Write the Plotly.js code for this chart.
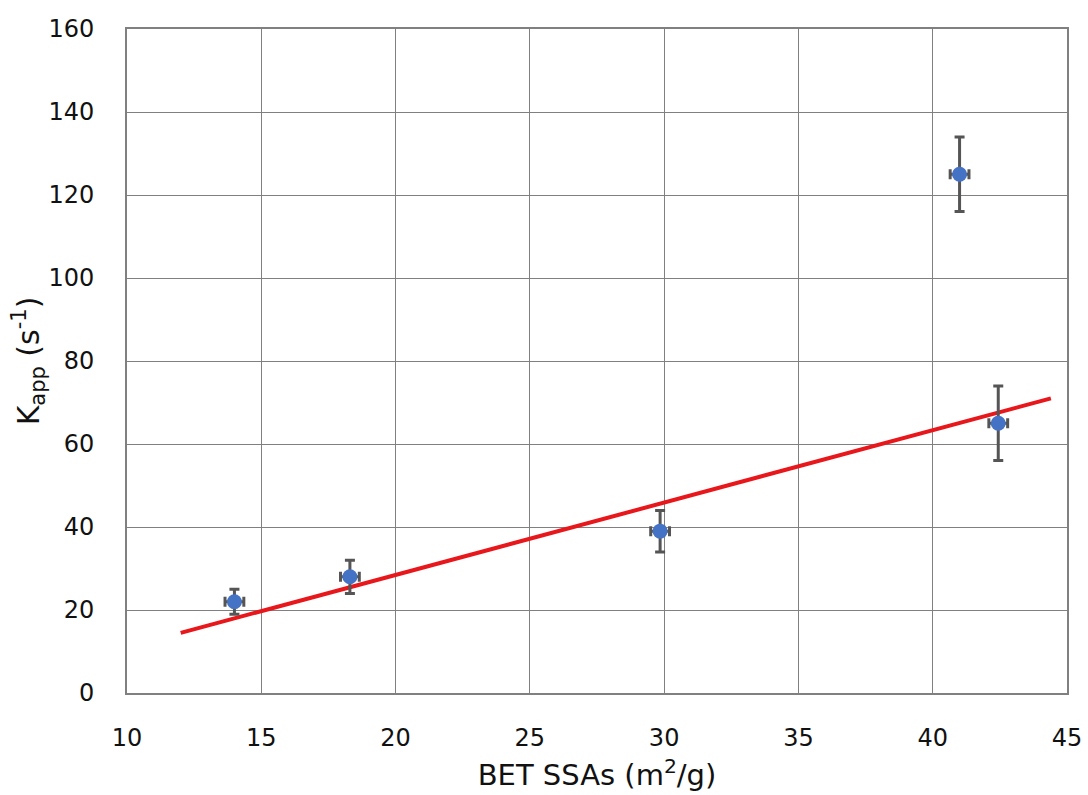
<!DOCTYPE html>
<html>
<head>
<meta charset="utf-8">
<script src="https://cdn.plot.ly/plotly-3.0.1.min.js"></script>
<style>
  html, body { margin: 0; padding: 0; background: #fff; }
  #chart { width: 1088px; height: 795px; }
</style>
</head>
<body>
<div id="chart"></div>
<script>
// BET specific surface area vs apparent rate constant
const ssa      = [14.0, 18.3, 29.85, 41.0, 42.44];
const kapp     = [22, 28, 39, 125, 65];
const kappErr  = [3, 4, 5, 9, 9];
const ssaErr   = [0.35, 0.35, 0.35, 0.35, 0.35];

// linear trend line end points
const fitX = [12.0, 44.4];
const fitY = [14.5, 71.0];

const xTicks = [10, 15, 20, 25, 30, 35, 40, 45];
const yTicks = [0, 20, 40, 60, 80, 100, 120, 140, 160];

const fontFam = '"DejaVu Sans", Verdana, sans-serif';

const traces = [
  {
    x: fitX, y: fitY,
    mode: 'lines',
    line: { color: '#e8171b', width: 4 },
    hoverinfo: 'skip',
    showlegend: false
  },
  {
    x: ssa, y: kapp,
    mode: 'markers',
    marker: { color: '#4472c4', size: 15 },
    error_y: { type: 'data', array: kappErr, visible: true, color: '#555555', thickness: 3, width: 5 },
    error_x: { type: 'data', array: ssaErr, visible: true, color: '#555555', thickness: 3, width: 5 },
    showlegend: false
  }
];

const layout = {
  width: 1088, height: 795,
  margin: { l: 127, r: 21, t: 29, b: 102 },
  paper_bgcolor: '#ffffff',
  plot_bgcolor: '#ffffff',
  font: { family: fontFam, size: 24, color: '#111' },
  xaxis: {
    range: [10, 45],
    tickvals: xTicks,
    ticktext: xTicks.map(String),
    tickfont: { size: 24, family: fontFam },
    showgrid: true, gridcolor: '#808080', gridwidth: 1,
    showline: true, linecolor: '#808080', linewidth: 2, mirror: true,
    zeroline: false, ticks: '',
    ticklabelstandoff: 22,
    title: { text: 'BET SSAs (m<sup>2</sup>/g)', font: { size: 29, family: fontFam }, standoff: 14 }
  },
  yaxis: {
    range: [0, 160],
    tickvals: yTicks,
    ticktext: yTicks.map(String),
    tickfont: { size: 24, family: fontFam },
    showgrid: true, gridcolor: '#808080', gridwidth: 1,
    showline: true, linecolor: '#808080', linewidth: 2, mirror: true,
    zeroline: false, ticks: '',
    ticklabelstandoff: 26,
    title: { text: 'K<sub>app</sub> (s<sup>-1</sup>)', font: { size: 30, family: fontFam }, standoff: 0 }
  }
};

Plotly.newPlot('chart', traces, layout, { displayModeBar: false, staticPlot: true });
</script>
</body>
</html>
